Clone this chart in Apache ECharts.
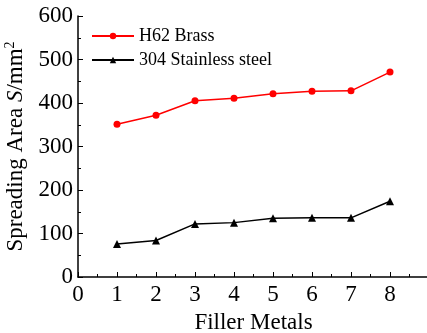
<!DOCTYPE html>
<html>
<head>
<meta charset="utf-8">
<script src="https://cdn.jsdelivr.net/npm/echarts@6/dist/echarts.min.js"></script>
<style>
  html, body { margin: 0; padding: 0; background: #fff; }
  #chart { width: 427px; height: 333px; }
</style>
</head>
<body>
<div id="chart"></div>
<script>
// 填充金属编号 1-8
const fillerMetals = [1, 2, 3, 4, 5, 6, 7, 8]
const brassArea = [351, 372, 405, 411, 421, 427, 428, 471]
const steelArea = [76, 84, 122, 125, 135, 136, 136, 174]

const FONT = 'Liberation Serif'

const chart = echarts.init(document.getElementById('chart'))

const toPairs = vals => fillerMetals.map((x, i) => [x, vals[i]])

chart.setOption({
  animation: false,
  textStyle: { fontFamily: FONT, color: '#000' },
  grid: { left: 78, top: 16, width: 351, height: 261, outerBoundsMode: 'none', containLabel: false },
  legend: {
    left: 86,
    top: 22,
    orient: 'vertical',
    itemWidth: 42,
    itemHeight: 8,
    itemGap: 6,
    textStyle: { fontFamily: FONT, fontSize: 18, color: '#000' },
    data: ['H62 Brass', '304 Stainless steel']
  },
  xAxis: {
    type: 'value',
    min: 0,
    max: 9,
    interval: 1,
    name: 'Filler Metals',
    nameLocation: 'middle',
    nameGap: 34,
    nameTextStyle: { fontFamily: FONT, fontSize: 23, color: '#000' },
    axisLine: { lineStyle: { color: '#000', width: 1.5 } },
    axisTick: { inside: true, length: 5, lineStyle: { color: '#000' } },
    minorTick: { show: true, splitNumber: 2, length: 3, lineStyle: { color: '#000' } },
    splitLine: { show: false },
    axisLabel: {
      fontFamily: FONT, fontSize: 23, color: '#000', margin: 6,
      formatter: v => (v > 8 ? '' : v)
    }
  },
  yAxis: {
    type: 'value',
    min: 0,
    max: 600,
    interval: 100,
    name: '{n|Spreading Area }{i|S}{n|/mm}{s|2}',
    nameLocation: 'middle',
    nameRotate: 90,
    nameGap: 45,
    nameTextStyle: {
      fontFamily: FONT, fontSize: 23, color: '#000',
      rich: {
        n: { fontFamily: FONT, fontSize: 23, color: '#000' },
        i: { fontFamily: FONT, fontSize: 23, fontStyle: 'italic', color: '#000' },
        s: { fontFamily: FONT, fontSize: 14, color: '#000', verticalAlign: 'top', padding: [0, 0, 12, 0] }
      }
    },
    axisLine: { show: true, lineStyle: { color: '#000', width: 1.5 } },
    axisTick: { show: true, inside: true, length: 5, lineStyle: { color: '#000' } },
    minorTick: { show: true, splitNumber: 2, length: 3, lineStyle: { color: '#000' } },
    splitLine: { show: false },
    axisLabel: { fontFamily: FONT, fontSize: 23, color: '#000', margin: 5 }
  },
  series: [
    {
      name: 'H62 Brass',
      type: 'line',
      data: toPairs(brassArea),
      symbol: 'circle',
      symbolSize: 7,
      itemStyle: { color: '#ff0000' },
      lineStyle: { color: '#ff0000', width: 1.5 }
    },
    {
      name: '304 Stainless steel',
      type: 'line',
      data: toPairs(steelArea),
      symbol: 'triangle',
      symbolSize: 8,
      itemStyle: { color: '#000' },
      lineStyle: { color: '#000', width: 1.5 }
    }
  ]
})
</script>
</body>
</html>
